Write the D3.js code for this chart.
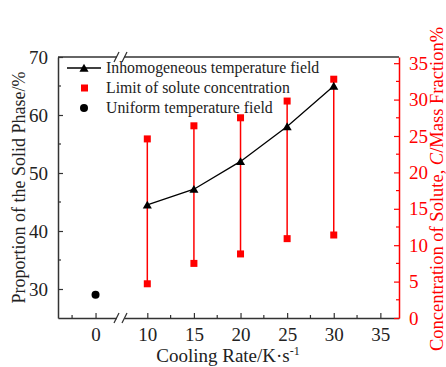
<!DOCTYPE html>
<html>
<head>
<meta charset="utf-8">
<script src="https://cdn.jsdelivr.net/npm/d3@7"></script>
<style>
  body { margin: 0; background: #fff; }
  svg text { font-family: "Liberation Serif", "Times New Roman", serif; }
</style>
</head>
<body>
<div id="chart"></div>
<script>
// Data
let coolingRates = [10, 15, 20, 25, 30];
let solidPhase = [44.5, 47.2, 52.0, 58.0, 65.0];
let soluteMax = [24.6, 26.4, 27.5, 29.8, 32.8];
let soluteMin = [4.7, 7.5, 8.8, 10.9, 11.4];
let uniformRate = [0];
let uniformPhase = [29];

let xTicks = [0, 10, 15, 20, 25, 30, 35];
let yLeftTicks = [30, 40, 50, 60, 70];
let yRightTicks = [0, 5, 10, 15, 20, 25, 30, 35];
let legendLabels = ["Inhomogeneous temperature field", "Limit of solute concentration", "Uniform temperature field"];

// Set size
let w = 446;
let h = 367;
let pLeft = 58, pRight = 399, pTop = 57, pBottom = 318;
let axisColor = "#333";
let red = "#ff0000";

// broken x axis: two linear pieces
let xLeft = d3.scaleLinear().domain([-4, 2.5]).range([pLeft, 119]);
let xRight = d3.scaleLinear().domain([7.5, 37]).range([124, pRight]);
let x = (v) => (v < 5 ? xLeft(v) : xRight(v));

let yLeft = d3.scaleLinear().domain([25, 70]).range([pBottom, pTop]);
let yRight = d3.scaleLinear().domain([0, 35.85]).range([pBottom, pTop]);

let svg = d3.select("#chart").append("svg").attr("width", w).attr("height", h);

function styleAxis(g, color) {
  g.selectAll("path").attr("stroke", color).attr("stroke-width", 1.5);
  g.selectAll("line").attr("stroke", color).attr("stroke-width", 1.2);
  g.selectAll("text")
    .attr("fill", color === axisColor ? "#222" : color)
    .attr("font-family", "Liberation Serif")
    .attr("font-size", "19px");
}

// bottom axis (two pieces)
let bottomLeftAxis = svg.append("g")
  .attr("transform", "translate(0," + pBottom + ")")
  .call(d3.axisBottom(xLeft).tickValues([0]).tickFormat(d3.format("d")).tickSizeInner(-5).tickSizeOuter(0).tickPadding(10));
let bottomRightAxis = svg.append("g")
  .attr("transform", "translate(0," + pBottom + ")")
  .call(d3.axisBottom(xRight).tickValues(xTicks.filter((d) => d > 5)).tickFormat(d3.format("d")).tickSizeInner(-5).tickSizeOuter(0).tickPadding(10));
styleAxis(bottomLeftAxis, axisColor);
styleAxis(bottomRightAxis, axisColor);

// minor x ticks
let xMinor = [-2.5, 12.5, 17.5, 22.5, 27.5, 32.5];
svg.append("g").selectAll("line").data(xMinor).enter().append("line")
  .attr("x1", (d) => x(d)).attr("x2", (d) => x(d))
  .attr("y1", pBottom).attr("y2", pBottom - 3)
  .attr("stroke", axisColor).attr("stroke-width", 1.2);

// top axis line (no ticks)
svg.append("line").attr("x1", pLeft).attr("x2", 119).attr("y1", pTop).attr("y2", pTop)
  .attr("stroke", axisColor).attr("stroke-width", 1.5);
svg.append("line").attr("x1", 124).attr("x2", pRight).attr("y1", pTop).attr("y2", pTop)
  .attr("stroke", axisColor).attr("stroke-width", 1.5);

// break marks
[pTop, pBottom].forEach((yy) => {
  svg.append("rect").attr("x", 117).attr("y", yy - 2).attr("width", 7).attr("height", 4).attr("fill", "#fff");
  [0, 8].forEach((dx) => {
    svg.append("line")
      .attr("x1", 114 + dx).attr("y1", yy + 5)
      .attr("x2", 119 + dx).attr("y2", yy - 5)
      .attr("stroke", axisColor).attr("stroke-width", 1.2);
  });
});

// left axis
let leftAxis = svg.append("g")
  .attr("transform", "translate(" + pLeft + ",0)")
  .call(d3.axisLeft(yLeft).tickValues(yLeftTicks).tickSizeInner(-5).tickSizeOuter(0).tickPadding(10));
styleAxis(leftAxis, axisColor);
svg.append("g").selectAll("line").data([35, 45, 55, 65]).enter().append("line")
  .attr("x1", pLeft).attr("x2", pLeft + 3)
  .attr("y1", (d) => yLeft(d)).attr("y2", (d) => yLeft(d))
  .attr("stroke", axisColor).attr("stroke-width", 1.2);

// right axis (red)
let rightAxis = svg.append("g")
  .attr("transform", "translate(" + pRight + ",0)")
  .call(d3.axisRight(yRight).tickValues(yRightTicks).tickSizeInner(-5).tickSizeOuter(0).tickPadding(10));
styleAxis(rightAxis, red);
svg.append("g").selectAll("line").data(yRightTicks.map((d) => d + 2.5).filter((d) => d < 35)).enter().append("line")
  .attr("x1", pRight).attr("x2", pRight - 3)
  .attr("y1", (d) => yRight(d)).attr("y2", (d) => yRight(d))
  .attr("stroke", red).attr("stroke-width", 1.2);

// solute limit bars
let bars = coolingRates.map((r, i) => ({ r: r, hi: soluteMax[i], lo: soluteMin[i] }));
svg.append("g").selectAll("line").data(bars).enter().append("line")
  .attr("x1", (d) => x(d.r)).attr("x2", (d) => x(d.r))
  .attr("y1", (d) => yRight(d.hi)).attr("y2", (d) => yRight(d.lo))
  .attr("stroke", red).attr("stroke-width", 1.5);
let squares = [];
bars.forEach((d) => { squares.push([d.r, d.hi]); squares.push([d.r, d.lo]); });
svg.append("g").selectAll("rect").data(squares).enter().append("rect")
  .attr("x", (d) => x(d[0]) - 3.5).attr("y", (d) => yRight(d[1]) - 3.5)
  .attr("width", 7).attr("height", 7).attr("fill", red);

// inhomogeneous line with triangles
let pts = coolingRates.map((r, i) => [r, solidPhase[i]]);
svg.append("path").datum(pts)
  .attr("d", d3.line().x((d) => x(d[0])).y((d) => yLeft(d[1])))
  .attr("fill", "none").attr("stroke", "#000").attr("stroke-width", 1.3);
let tri = d3.symbol().type(d3.symbolTriangle).size(36);
svg.append("g").selectAll("path").data(pts).enter().append("path")
  .attr("d", tri)
  .attr("transform", (d) => "translate(" + x(d[0]) + "," + (yLeft(d[1]) + 1) + ")")
  .attr("fill", "#000");

// uniform point
svg.append("g").selectAll("circle").data(uniformRate.map((r, i) => [r, uniformPhase[i]])).enter().append("circle")
  .attr("cx", (d) => x(d[0])).attr("cy", (d) => yLeft(d[1]))
  .attr("r", 4).attr("fill", "#000");

// legend
let lg = svg.append("g");
let lgY = [68, 88, 108];
lg.append("line").attr("x1", 67).attr("x2", 101).attr("y1", lgY[0]).attr("y2", lgY[0])
  .attr("stroke", "#000").attr("stroke-width", 1.3);
lg.append("path").attr("d", tri).attr("transform", "translate(84," + (lgY[0] + 1) + ")").attr("fill", "#000");
lg.append("rect").attr("x", 81).attr("y", lgY[1] - 3.5).attr("width", 7).attr("height", 7).attr("fill", red);
lg.append("circle").attr("cx", 84).attr("cy", lgY[2]).attr("r", 4).attr("fill", "#000");
lg.selectAll("text").data(legendLabels).enter().append("text")
  .attr("x", 106).attr("y", (d, i) => lgY[i] + 5)
  .attr("font-size", "15.8px").attr("fill", "#222")
  .text((d) => d);

// axis titles
svg.append("text")
  .attr("transform", "translate(25," + (pTop + pBottom) / 2 + ") rotate(-90)")
  .attr("text-anchor", "middle").attr("font-size", "18px").attr("fill", "#222")
  .text("Proportion of the Solid Phase/%");

let xt = svg.append("text")
  .attr("x", 228).attr("y", 362)
  .attr("text-anchor", "middle").attr("font-size", "19px").attr("fill", "#222");
xt.append("tspan").text("Cooling Rate/K·s");
xt.append("tspan").attr("dy", -7).attr("font-size", "12px").text("-1");

let rt = svg.append("text")
  .attr("transform", "translate(443," + 189 + ") rotate(-90)")
  .attr("text-anchor", "middle").attr("font-size", "18.5px").attr("fill", red);
rt.append("tspan").text("Concentration of Solute, ");
rt.append("tspan").attr("font-style", "italic").text("C");
rt.append("tspan").text("/Mass Fraction%");
</script>
</body>
</html>
